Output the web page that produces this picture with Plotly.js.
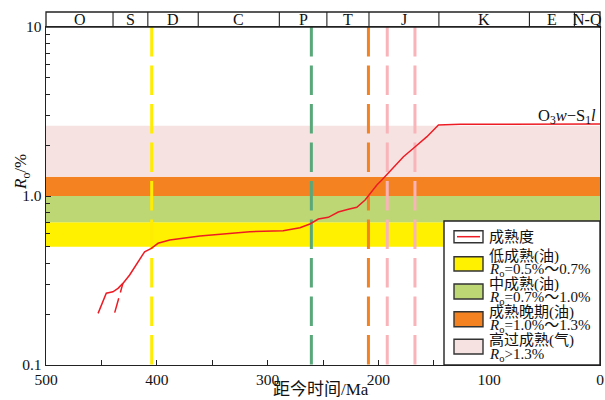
<!DOCTYPE html>
<html><head><meta charset="utf-8">
<script src="https://cdn.plot.ly/plotly-3.0.1.min.js"></script>
<style>html,body{margin:0;padding:0;background:#fff}#chart{width:605px;height:400px}</style>
</head><body><div id="chart"></div>
<script>
// ---- data ----
const maX = [453, 445.6, 439.6, 435, 430.6, 424.5, 411, 404.9, 398.9, 388.3, 361, 316, 285.9, 270.8, 261.8, 254.2, 245.2, 236.2, 227.1, 219.5, 212, 201.4, 196.9, 177.4, 166.8, 156.2, 145.8, 126, 0];
const roY = [0.202, 0.266, 0.271, 0.284, 0.304, 0.341, 0.468, 0.49, 0.525, 0.549, 0.58, 0.615, 0.623, 0.649, 0.683, 0.731, 0.748, 0.804, 0.834, 0.857, 0.947, 1.162, 1.244, 1.708, 1.957, 2.244, 2.632, 2.656, 2.67];
const branchX = [438, 430.6];
const branchY = [0.204, 0.304];
const bandLow = [0.5, 0.7, 1.0, 1.3];
const bandHigh = [0.7, 1.0, 1.3, 2.6];
const bandColors = ['#fff100', '#bdd775', '#f58220', '#f6e3e1'];
const vLines = [404.6, 260.5, 209, 192, 167];
const vColors = ['#ffec00', '#5aa87a', '#f58220', '#f8b4b8', '#f8b4b8'];
const periods = ['O', 'S', 'D', 'C', 'P', 'T', 'J', 'K', 'E', 'N-Q'];
const periodBounds = [500, 439.5, 408.1, 362.6, 289.4, 246.5, 208.5, 145.4, 63.7, 23.1, 0];
const xTicks = [500, 400, 300, 200, 100, 0];
const xMinor = [450, 350, 250, 150, 50];
const yTicks = [0.1, 1, 10];
const yTickText = ['0.1', '1.0', '10'];
const yMinor = [0.2, 0.3, 0.4, 0.5, 0.6, 0.7, 0.8, 0.9, 2, 3, 4, 5, 6, 7, 8, 9];
const legendLine1 = ['成熟度', '低成熟(油)', '中成熟(油)', '成熟晚期(油)', '高过成熟(气)'];
const legendLine2 = ['', '<i>R</i><sub>o</sub>=0.5%～0.7%', '<i>R</i><sub>o</sub>=0.7%～1.0%', '<i>R</i><sub>o</sub>=1.0%～1.3%', '<i>R</i><sub>o</sub>&gt;1.3%'];
const curveLabel = 'O<sub>3</sub><i>w</i>−S<sub>1</sub><i>l</i>';
const xTitle = '距今时间/Ma';
const yTitle = '<i>R</i><sub>o</sub>/%';

// ---- layout helpers (pixel -> paper) ----
const L = 46, R = 600, T = 12, B = 365, YTOP = 27;
const px = x => (x - L) / (R - L);
const py = y => (B - y) / (B - T);
const domTop = py(YTOP);
const FONT = 'Liberation Serif, Times New Roman, Noto Sans CJK SC, serif';

const traces = [];
for (let i = 0; i < bandLow.length; i++) {
  traces.push({x: [500, 0, 0, 500], y: [bandLow[i], bandLow[i], bandHigh[i], bandHigh[i]],
    fill: 'toself', fillcolor: bandColors[i], mode: 'lines', line: {width: 0},
    hoverinfo: 'skip', showlegend: false});
}
for (let i = 0; i < vLines.length; i++) {
  traces.push({x: [vLines[i], vLines[i]], y: [10, 0.1], mode: 'lines',
    line: {color: vColors[i], width: 3, dash: '29.5px,9px'}, hoverinfo: 'skip', showlegend: false});
}
traces.push({x: maX, y: roY, mode: 'lines', line: {color: '#ed1c24', width: 1.5}, showlegend: false});
traces.push({x: branchX, y: branchY, mode: 'lines', line: {color: '#ed1c24', width: 1.5, dash: '15px,6px'}, showlegend: false});

const shapes = [];
const annotations = [];
shapes.push({type: 'rect', xref: 'paper', yref: 'paper', x0: 0, x1: 1, y0: domTop, y1: 1, line: {color: '#222', width: 1.3}});
for (let i = 1; i < periodBounds.length - 1; i++) {
  shapes.push({type: 'line', xref: 'x', yref: 'paper', x0: periodBounds[i], x1: periodBounds[i], y0: domTop, y1: 1, line: {color: '#222', width: 1.1}});
}
for (let i = 0; i < periods.length; i++) {
  annotations.push({xref: 'x', yref: 'paper', x: (periodBounds[i] + periodBounds[i + 1]) / 2, y: (domTop + 1) / 2,
    text: periods[i], showarrow: false, font: {family: FONT, size: 16, color: '#111'}, xanchor: 'center', yanchor: 'middle'});
}
shapes.push({type: 'rect', xref: 'paper', yref: 'paper', x0: px(444), x1: 1, y0: py(365), y1: py(221), fillcolor: '#fff', line: {color: '#222', width: 1.4}, layer: 'above'});
const boxTop = [230.7, 256.7, 284, 311.7, 339.3];
const boxBot = [242.7, 271, 299, 326.7, 354];
const boxFill = ['#fff'].concat(bandColors);
const l1y = [237, 256, 284, 312, 340.5];
const l2y = [0, 269.5, 297.5, 326, 355];
for (let i = 0; i < 5; i++) {
  shapes.push({type: 'rect', xref: 'paper', yref: 'paper', x0: px(454), x1: px(483), y0: py(boxBot[i]), y1: py(boxTop[i]),
    fillcolor: boxFill[i], line: {color: '#333', width: 1.4}, layer: 'above'});
  annotations.push({xref: 'paper', yref: 'paper', x: px(487), y: py(l1y[i]), text: legendLine1[i], showarrow: false,
    xanchor: 'left', yanchor: 'middle', font: {family: FONT, size: 15, color: '#111'}});
  if (legendLine2[i]) {
    annotations.push({xref: 'paper', yref: 'paper', x: px(487), y: py(l2y[i]), text: legendLine2[i], showarrow: false,
      xanchor: 'left', yanchor: 'middle', font: {family: FONT, size: 15, color: '#111'}});
  }
}
shapes.push({type: 'line', xref: 'paper', yref: 'paper', x0: px(457), x1: px(480), y0: py(236.7), y1: py(236.7), line: {color: '#ed1c24', width: 1.5}, layer: 'above'});
annotations.push({xref: 'paper', yref: 'paper', x: px(598), y: py(116), text: curveLabel, showarrow: false,
  xanchor: 'right', yanchor: 'middle', font: {family: FONT, size: 16.5, color: '#111'}});
annotations.push({xref: 'paper', yref: 'paper', x: px(321), y: py(389), text: xTitle, showarrow: false,
  xanchor: 'center', yanchor: 'middle', font: {family: FONT, size: 17, color: '#111'}});
annotations.push({xref: 'paper', yref: 'paper', x: px(22), y: py(172), text: yTitle, showarrow: false, textangle: -90,
  xanchor: 'center', yanchor: 'middle', font: {family: FONT, size: 17, color: '#111'}});

const layout = {
  width: 605, height: 400,
  margin: {l: L, r: 605 - R, t: T, b: 400 - B, pad: 0},
  paper_bgcolor: '#fff', plot_bgcolor: '#fff',
  showlegend: false,
  xaxis: {range: [500, 0], showgrid: false, zeroline: false, showline: true, linecolor: '#222', linewidth: 1.3, mirror: true,
    ticks: 'inside', ticklen: 5, tickcolor: '#222', tickvals: xTicks, ticktext: xTicks.map(String),
    minor: {tickvals: xMinor, ticks: 'inside', ticklen: 5, tickcolor: '#222'},
    tickfont: {family: FONT, size: 15.5, color: '#111'}},
  yaxis: {type: 'log', range: [-1, 1], domain: [0, domTop], showgrid: false, zeroline: false, showline: true, linecolor: '#222', linewidth: 1.3, mirror: true,
    ticks: 'inside', ticklen: 5, tickcolor: '#222', tickvals: yTicks, ticktext: yTickText,
    minor: {tickvals: yMinor, ticks: 'inside', ticklen: 4, tickcolor: '#222'},
    tickfont: {family: FONT, size: 15.5, color: '#111'}},
  shapes: shapes,
  annotations: annotations
};
Plotly.newPlot('chart', traces, layout, {staticPlot: true, displayModeBar: false});
</script></body></html>
